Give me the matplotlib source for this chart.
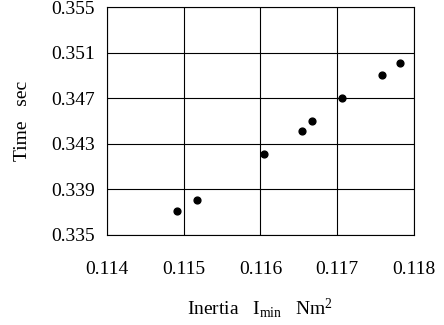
import matplotlib
matplotlib.use("Agg")
import matplotlib.pyplot as plt

# values
inertia = [0.11491, 0.11517, 0.11605, 0.116545, 0.11667, 0.11706, 0.11758, 0.11782]
time_sec = [0.33713, 0.33807, 0.34211, 0.34410, 0.34503, 0.34705, 0.34906, 0.35012]

x_ticks = [0.114, 0.115, 0.116, 0.117, 0.118]
y_ticks = [0.335, 0.339, 0.343, 0.347, 0.351, 0.355]

plt.rcParams['font.family'] = ['Liberation Serif', 'DejaVu Serif']
plt.rcParams['mathtext.fontset'] = 'custom'
plt.rcParams['mathtext.rm'] = 'Liberation Serif'
plt.rcParams['mathtext.it'] = 'Liberation Serif:italic'

fig = plt.figure(figsize=(4.44, 3.25), dpi=100)
ax = fig.add_axes([0.241, 0.277, 0.691, 0.701])

ax.scatter(inertia, time_sec, s=24, color='black', zorder=3)

ax.set_xlim(0.114, 0.118)
ax.set_ylim(0.335, 0.355)
ax.set_xticks(x_ticks)
ax.set_yticks(y_ticks)
ax.set_xticklabels([f"{v:.3f}" for v in x_ticks])
ax.set_yticklabels([f"{v:.3f}" for v in y_ticks])
ax.tick_params(axis='both', length=0, labelsize=14)
ax.tick_params(axis='x', pad=19)
ax.tick_params(axis='y', pad=9)
ax.grid(True, color='black', linewidth=0.8)
for sp in ax.spines.values():
    sp.set_linewidth(0.8)

ax.set_xlabel(r"Inertia   I$_{\mathrm{min}}$   Nm$^{2}$", fontsize=14, labelpad=13)
ax.set_ylabel("Time   sec", fontsize=14, labelpad=14)

fig.savefig("out.png", dpi=100)
